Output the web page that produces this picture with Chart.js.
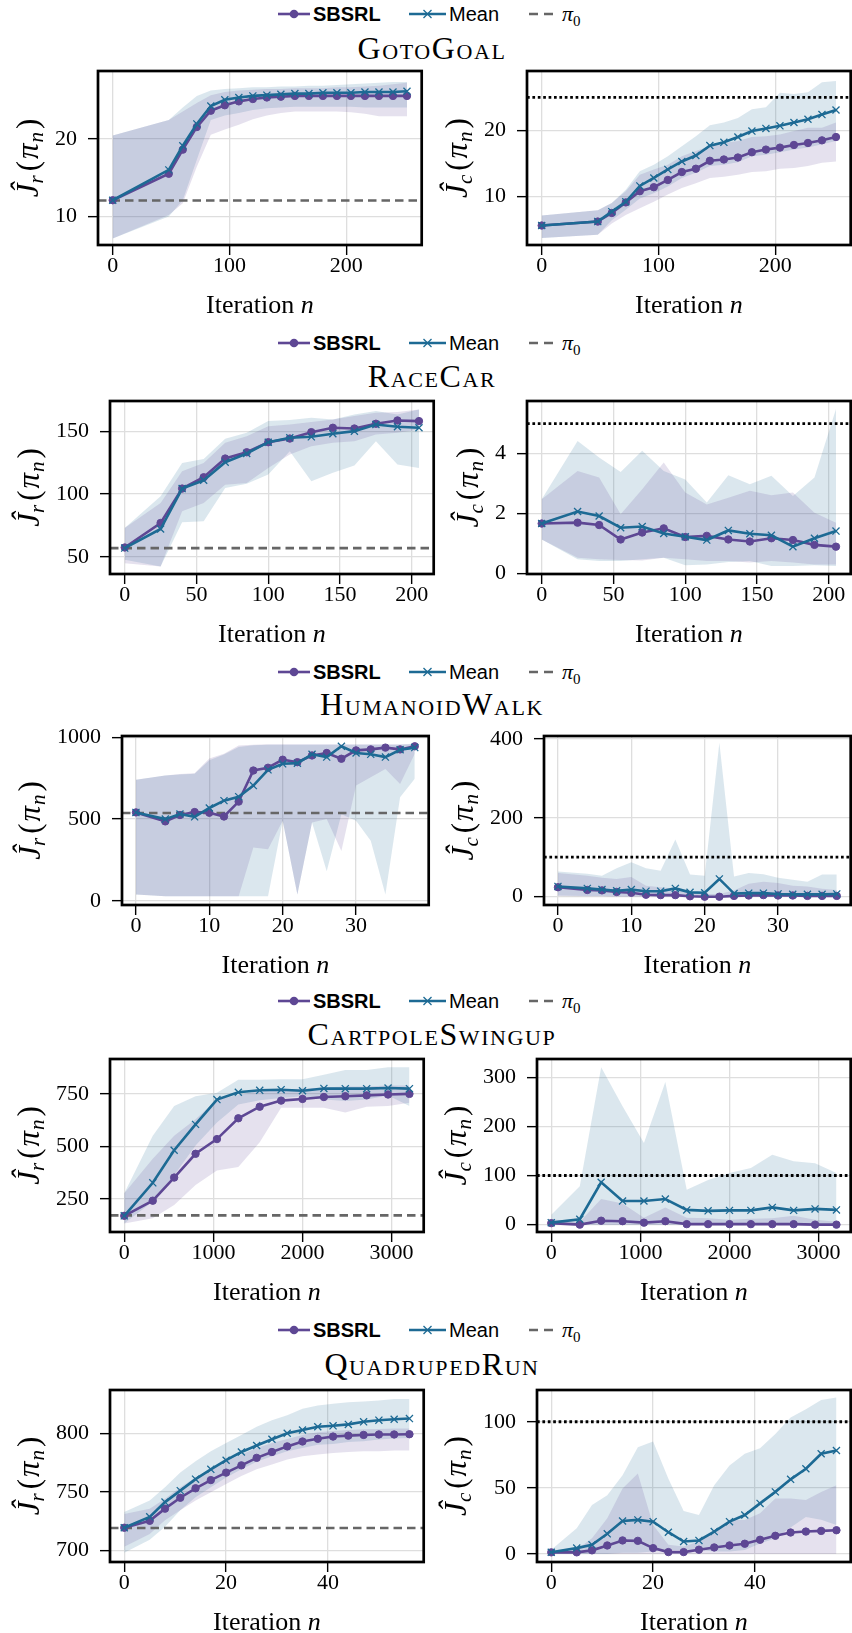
<!DOCTYPE html>
<html>
<head>
<meta charset="utf-8">
<script src="https://cdn.jsdelivr.net/npm/chart.js@4.4.1/dist/chart.umd.min.js"></script>
<style>
  html, body { margin: 0; padding: 0; background: #fff; overflow: hidden; }
  #page { position: relative; width: 852px; height: 1633px; overflow: hidden; }
  #page canvas { position: absolute; }
  #labels { position: absolute; left: 0; top: 0; }
</style>
</head>
<body>
<div id="page"><svg id="labels" width="852" height="1633"></svg></div>
<script>
// ---- data ----
const X_GOTO = [0, 48, 60, 72, 84, 96, 108, 120, 132, 144, 156, 168, 180, 192, 204, 216, 228, 240, 252];
const GOTO_R_SBSRL    = [12.1, 15.5, 18.6, 21.5, 23.6, 24.3, 24.8, 25.1, 25.3, 25.4, 25.5, 25.5, 25.5, 25.5, 25.5, 25.5, 25.5, 25.5, 25.5];
const GOTO_R_SBSRL_HI = [20.4, 22.4, 23.5, 24.6, 25.6, 26.0, 26.2, 26.3, 26.4, 26.4, 26.5, 26.5, 26.5, 26.6, 26.6, 26.7, 26.8, 27.0, 27.2];
const GOTO_R_SBSRL_LO = [7.2, 10.2, 11.7, 16.4, 20.5, 21.2, 21.8, 22.5, 23.0, 23.3, 23.5, 23.5, 23.5, 23.5, 23.4, 23.2, 22.9, 22.9, 22.9];
const GOTO_R_MEAN     = [12.1, 16.0, 19.1, 21.9, 24.2, 25.0, 25.3, 25.5, 25.6, 25.7, 25.8, 25.8, 25.9, 25.9, 25.9, 26.0, 26.0, 26.0, 26.1];
const GOTO_R_MEAN_HI  = [20.4, 22.4, 24.0, 25.5, 26.2, 26.4, 26.5, 26.6, 26.6, 26.7, 26.7, 26.8, 26.8, 26.9, 27.0, 27.1, 27.2, 27.3, 27.3];
const GOTO_R_MEAN_LO  = [7.2, 10.0, 12.1, 17.3, 22.4, 23.0, 23.3, 23.7, 23.9, 24.0, 24.1, 24.1, 24.1, 24.1, 24.1, 24.0, 24.0, 24.0, 24.0];
const GOTO_C_SBSRL    = [5.6, 6.2, 7.5, 9.1, 10.8, 11.4, 12.5, 13.7, 14.2, 15.4, 15.6, 15.9, 16.7, 17.1, 17.4, 17.8, 18.1, 18.5, 19.0];
const GOTO_C_SBSRL_HI = [7.1, 7.9, 9.0, 10.8, 13.3, 14.1, 14.8, 16.1, 16.9, 17.6, 18.1, 18.4, 19.0, 19.1, 19.4, 19.9, 20.4, 20.4, 21.2];
const GOTO_C_SBSRL_LO = [3.7, 4.2, 5.9, 7.2, 8.2, 9.2, 10.3, 11.3, 12.0, 12.8, 13.0, 13.3, 13.7, 13.8, 14.2, 14.3, 14.6, 15.1, 15.3];
const GOTO_C_MEAN     = [5.6, 6.2, 7.7, 9.2, 11.6, 12.8, 14.1, 15.3, 16.2, 17.7, 18.2, 19.0, 19.9, 20.3, 20.7, 21.2, 21.7, 22.4, 23.1];
const GOTO_C_MEAN_HI  = [7.1, 7.9, 9.0, 11.0, 13.8, 14.8, 16.1, 17.6, 19.1, 20.8, 21.2, 21.9, 23.2, 23.5, 25.7, 25.5, 25.8, 27.3, 27.5];
const GOTO_C_MEAN_LO  = [3.7, 4.2, 6.4, 8.0, 9.7, 10.5, 11.5, 12.8, 13.6, 14.6, 14.8, 15.2, 16.1, 16.3, 16.7, 17.1, 17.4, 17.9, 18.4];

const X_RACE = [0, 25, 40, 55, 70, 85, 100, 115, 130, 145, 160, 175, 190, 205];
const RACE_R_SBSRL    = [57.4, 76.9, 104.3, 113.3, 128.2, 133.2, 141.2, 144.1, 149.2, 152.7, 152.1, 155.9, 158.5, 158.0];
const RACE_R_SBSRL_HI = [72.9, 92.8, 118, 124.7, 140.7, 146, 154, 155.3, 157.2, 159.3, 162, 164.6, 165.2, 167.3];
const RACE_R_SBSRL_LO = [44.9, 42.3, 86.2, 92.8, 107.4, 108.8, 120.7, 131.4, 138, 140.7, 142, 147.3, 148.7, 151.3];
const RACE_R_MEAN     = [56.9, 72.1, 104.3, 110.9, 125.3, 132.2, 141.2, 144.7, 145.5, 147.9, 150, 155.3, 153.5, 152.7];
const RACE_R_MEAN_HI  = [72.9, 98.1, 124.7, 127.9, 143.9, 148.7, 158, 158.8, 160.6, 159.3, 163.3, 166, 163.3, 167.3];
const RACE_R_MEAN_LO  = [47.6, 42.3, 77.4, 78.2, 104.8, 108.2, 115.4, 134, 110.1, 116.8, 122.6, 142, 123.4, 120.7];
const RACE_C_SBSRL    = [1.67, 1.70, 1.62, 1.14, 1.37, 1.51, 1.22, 1.26, 1.14, 1.07, 1.18, 1.12, 0.96, 0.90];
const RACE_C_SBSRL_HI = [2.48, 3.42, 3.2, 1.98, 2.81, 3.7, 2.7, 2.3, 2.53, 2.76, 2.61, 2.7, 2.03, 1.7];
const RACE_C_SBSRL_LO = [1.14, 0.53, 0.48, 0.46, 0.44, 0.53, 0.48, 0.42, 0.42, 0.37, 0.42, 0.37, 0.31, 0.31];
const RACE_C_MEAN     = [1.67, 2.07, 1.92, 1.53, 1.57, 1.34, 1.23, 1.12, 1.44, 1.33, 1.28, 0.90, 1.18, 1.42];
const RACE_C_MEAN_HI  = [2.48, 4.42, 3.87, 3.39, 4.09, 3.42, 3.14, 2.37, 3.28, 2.98, 3.26, 2.59, 3.2, 5.48];
const RACE_C_MEAN_LO  = [1.14, 0.48, 0.42, 0.42, 0.48, 0.53, 0.28, 0.31, 0.39, 0.42, 0.26, 0.26, 0.28, 0.26];

const X_HUM = [0, 4, 6, 8, 10, 12, 14, 16, 18, 20, 22, 24, 26, 28, 30, 32, 34, 36, 38];
const HUM_R_SBSRL    = [541, 486, 525, 543, 539, 516, 607, 797, 814, 863, 848, 889, 904, 869, 920, 926, 937, 926, 945];
const HUM_R_SBSRL_HI = [740, 766, 775, 780, 870, 900, 950, 955, 957, 957, 957, 957, 957, 957, 957, 957, 957, 957, 960];
const HUM_R_SBSRL_LO = [39, 29, 28, 28, 28, 28, 28, 326, 316, 490, 39, 480, 500, 305, 705, 756, 807, 715, 900];
const HUM_R_MEAN     = [541, 500, 531, 514, 568, 613, 637, 705, 801, 838, 842, 896, 879, 945, 904, 896, 879, 924, 937];
const HUM_R_MEAN_HI  = [740, 766, 772, 778, 860, 895, 940, 952, 955, 955, 955, 955, 955, 955, 955, 955, 955, 955, 958];
const HUM_R_MEAN_LO  = [39, 29, 28, 28, 28, 28, 28, 28, 28, 490, 39, 480, 182, 530, 490, 367, 39, 633, 746];
const HUM_C_SBSRL    = [24, 17, 16, 12, 10, 5, 4, 4, 1, 0, 0, 2, 3, 4, 3, 3, 2, 2, 2];
const HUM_C_SBSRL_HI = [60, 53, 48, 45, 50, 28, 24, 20, 13, 7, 7, 16, 33, 38, 35, 28, 26, 20, 17];
const HUM_C_SBSRL_LO = [2, 1, 1, 0, 0, 0, 0, 0, 0, 0, 0, 0, 0, 0, 0, 0, 0, 0, 0];
const HUM_C_MEAN     = [26, 21, 18, 15, 18, 14, 14, 21, 11, 10, 45, 8, 9, 9, 7, 6, 6, 6, 7];
const HUM_C_MEAN_HI  = [64, 58, 53, 72, 87, 72, 66, 145, 56, 53, 390, 51, 60, 57, 48, 43, 38, 56, 56];
const HUM_C_MEAN_LO  = [3, 2, 2, 1, 1, 1, 1, 1, 1, 1, 1, 1, 1, 1, 1, 1, 1, 1, 1];

const X_CART = [0, 320, 560, 800, 1040, 1280, 1520, 1760, 2000, 2240, 2480, 2720, 2960, 3200];
const CART_R_SBSRL    = [170, 242, 352, 465, 535, 634, 689, 718, 726, 735, 739, 743, 747, 750];
const CART_R_SBSRL_HI = [277, 441, 551, 629, 723, 745, 765, 772, 775, 780, 785, 785, 790, 790];
const CART_R_SBSRL_LO = [133, 159, 222, 316, 386, 402, 520, 684, 684, 684, 661, 689, 692, 708];
const CART_R_MEAN     = [170, 327, 482, 605, 723, 758, 767, 770, 765, 776, 775, 775, 778, 775];
const CART_R_MEAN_HI  = [277, 551, 692, 739, 755, 817, 817, 820, 820, 841, 864, 864, 877, 877];
const CART_R_MEAN_LO  = [133, 238, 363, 504, 614, 700, 720, 730, 739, 723, 716, 723, 742, 692];
const CART_C_SBSRL    = [3, 0, 8, 7, 4, 7, 1, 1, 1, 1, 1, 1, 0, 0];
const CART_C_SBSRL_HI = [11, 6, 52, 43, 14, 35, 14, 13, 10, 12, 13, 18, 10, 6];
const CART_C_SBSRL_LO = [0, 0, 0, 0, 0, 0, 0, 0, 0, 0, 0, 0, 0, 0];
const CART_C_MEAN     = [4, 11, 86, 48, 48, 52, 30, 28, 29, 29, 35, 29, 32, 30];
const CART_C_MEAN_HI  = [20, 78, 320, 241, 166, 290, 71, 91, 105, 115, 142, 129, 125, 105];
const CART_C_MEAN_LO  = [0, 0, 0, 0, 0, 0, 0, 0, 0, 0, 0, 0, 0, 0];

const X_QUAD = [0, 5, 8, 11, 14, 17, 20, 23, 26, 29, 32, 35, 38, 41, 44, 47, 50, 53, 56];
const QUAD_R_SBSRL    = [719.3, 725.2, 735.6, 744.9, 753, 760, 766.4, 772.6, 779, 784, 788.8, 793, 795.3, 797.2, 798, 798.6, 799, 799, 799.2];
const QUAD_R_SBSRL_HI = [731, 735.6, 744, 753.8, 762.2, 769.2, 776.2, 781.8, 787.4, 791.6, 795.2, 798.6, 800.8, 802, 802.8, 803.4, 803.6, 804.2, 804.2];
const QUAD_R_SBSRL_LO = [703, 714, 725.6, 734.2, 742.6, 749.6, 756.6, 763.6, 769.2, 773.4, 777.6, 780.4, 781.8, 783.2, 784, 784.6, 784.6, 785.3, 785.3];
const QUAD_R_MEAN     = [719.3, 728.6, 741.2, 751, 760.8, 769.2, 777, 784, 789.6, 794.9, 800, 802.8, 805.6, 806.4, 807.6, 809.8, 811.2, 812, 812.6];
const QUAD_R_MEAN_HI  = [732.8, 742.6, 753.8, 766.4, 776.2, 784.6, 791.6, 798.6, 805.6, 811.2, 815.4, 821, 823.8, 825.2, 826.6, 827.2, 828, 829.4, 829.4];
const QUAD_R_MEAN_LO  = [698, 709, 720.2, 734.2, 745.4, 753.8, 762.2, 769.2, 775.6, 780.4, 784.6, 787.4, 790.2, 790.8, 792.6, 793.2, 794.6, 795.5, 796];
const QUAD_C_SBSRL    = [1.3, 1.3, 2.8, 6.5, 10.3, 10, 4.5, 1.5, 1.5, 3.3, 5, 6.5, 7.8, 10.8, 13.8, 16.3, 17, 17.5, 18];
const QUAD_C_SBSRL_HI = [3, 3.5, 12, 27, 49.5, 60.8, 22, 7, 5.8, 9.5, 17, 25.8, 25.8, 30.8, 42, 42, 40.8, 47, 52];
const QUAD_C_SBSRL_LO = [0, 0, 0, 0, 0, 0, 0, 0, 0, 0, 0, 0, 0, 0, 0, 0, 0, 0, 0];
const QUAD_C_MEAN     = [1.3, 4.5, 7, 15.3, 25, 25.8, 24.5, 16.5, 9.5, 10.3, 17, 24.5, 29.5, 38.3, 47, 56.5, 64.5, 75.8, 78.3];
const QUAD_C_MEAN_HI  = [3.3, 19.5, 37, 44.5, 59.5, 80.8, 85, 57, 32.5, 29.5, 52, 67, 75.8, 80, 90.8, 103.3, 109.5, 116.5, 118.3];
const QUAD_C_MEAN_LO  = [0, 0, 0, 0, 1, 1, 2, 3, 3, 3, 2, 2, 3, 8, 12, 20, 28, 26, 22];

// pi_0 reward level and cost budget per task
const PI0 = [12.06, 56.9, 537, 172, 719];
const BUDGET = [25, 5, 100, 100, 100];
const TITLES = ['GotoGoal', 'RaceCar', 'HumanoidWalk', 'CartpoleSwingup', 'QuadrupedRun'];

// tick labels
const XT = [[0, 100, 200], [0, 50, 100, 150, 200], [0, 10, 20, 30], [0, 1000, 2000, 3000], [0, 20, 40]];
const YT_R = [[10, 20], [50, 100, 150], [0, 500, 1000], [250, 500, 750], [700, 750, 800]];
const YT_C = [[10, 20], [0, 2, 4], [0, 200, 400], [0, 100, 200, 300], [0, 50, 100]];

// axis limits (matplotlib autoscale)
const XLIM = [[-12.6, 264.6], [-10.25, 215.25], [-1.9, 39.9], [-160, 3360], [-2.8, 58.8]];
const YLIM_R = [[6.35, 28.7], [36.3, 174], [-25, 1008], [93, 916], [690, 837]];
const YLIM_C = [[2.65, 29.0], [-0.01, 5.75], [-21, 407], [-15, 337], [-6, 124]];

// ---- layout ----
const ROW_TOP = [71, 401, 736, 1059, 1390];
const ROW_H = [173.5, 173, 168.5, 173, 172];
const LEFT_X = [98, 110, 122, 110, 110];
const RIGHT_X = [527, 527, 543.5, 537.3, 537.3];
const BOX_W = [323.5, 323.5, 306.5, 313.5, 313.5];
const TITLE_BASE = [59, 387, 715, 1045, 1375];
const LEGEND_BASE = [21, 350, 679, 1008, 1337];
const PAD_L = 130, PAD_T = 12, PAD_R = 6, PAD_B = 80;

const PURPLE = '#5e4794', BLUE = '#1d6a94';
const PURPLE_BAND = 'rgba(94,71,148,0.16)', BLUE_BAND = 'rgba(29,106,148,0.16)';
const SERIF = '"Liberation Serif", "Times New Roman", serif';

const ROWS = [
  { x: X_GOTO,
    r: [GOTO_R_SBSRL, GOTO_R_SBSRL_HI, GOTO_R_SBSRL_LO, GOTO_R_MEAN, GOTO_R_MEAN_HI, GOTO_R_MEAN_LO],
    c: [GOTO_C_SBSRL, GOTO_C_SBSRL_HI, GOTO_C_SBSRL_LO, GOTO_C_MEAN, GOTO_C_MEAN_HI, GOTO_C_MEAN_LO] },
  { x: X_RACE,
    r: [RACE_R_SBSRL, RACE_R_SBSRL_HI, RACE_R_SBSRL_LO, RACE_R_MEAN, RACE_R_MEAN_HI, RACE_R_MEAN_LO],
    c: [RACE_C_SBSRL, RACE_C_SBSRL_HI, RACE_C_SBSRL_LO, RACE_C_MEAN, RACE_C_MEAN_HI, RACE_C_MEAN_LO] },
  { x: X_HUM,
    r: [HUM_R_SBSRL, HUM_R_SBSRL_HI, HUM_R_SBSRL_LO, HUM_R_MEAN, HUM_R_MEAN_HI, HUM_R_MEAN_LO],
    c: [HUM_C_SBSRL, HUM_C_SBSRL_HI, HUM_C_SBSRL_LO, HUM_C_MEAN, HUM_C_MEAN_HI, HUM_C_MEAN_LO] },
  { x: X_CART,
    r: [CART_R_SBSRL, CART_R_SBSRL_HI, CART_R_SBSRL_LO, CART_R_MEAN, CART_R_MEAN_HI, CART_R_MEAN_LO],
    c: [CART_C_SBSRL, CART_C_SBSRL_HI, CART_C_SBSRL_LO, CART_C_MEAN, CART_C_MEAN_HI, CART_C_MEAN_LO] },
  { x: X_QUAD,
    r: [QUAD_R_SBSRL, QUAD_R_SBSRL_HI, QUAD_R_SBSRL_LO, QUAD_R_MEAN, QUAD_R_MEAN_HI, QUAD_R_MEAN_LO],
    c: [QUAD_C_SBSRL, QUAD_C_SBSRL_HI, QUAD_C_SBSRL_LO, QUAD_C_MEAN, QUAD_C_MEAN_HI, QUAD_C_MEAN_LO] }
];

function pts(xs, ys) { return xs.map((x, i) => ({ x, y: ys[i] })); }

// draws a run of text pieces (different fonts / baseline shifts) starting at x
function drawRun(ctx, parts, x, y) {
  parts.forEach(p => {
    if (p.gap) { x += p.gap; return; }
    ctx.font = p.f;
    ctx.fillText(p.t, x, y + (p.dy || 0));
    x += ctx.measureText(p.t).width;
  });
}
function runWidth(ctx, parts) {
  let w = 0;
  parts.forEach(p => {
    if (p.gap) { w += p.gap; return; }
    ctx.font = p.f;
    w += ctx.measureText(p.t).width;
  });
  return w;
}

const panelPlugin = {
  id: 'panel',
  beforeDatasetDraw(chart, args, opts) {
    if (args.index !== 4) return;   // after the bands, before the lines
    const { ctx, chartArea: a, scales } = chart;
    const py = scales.y.getPixelForValue(opts.level);
    ctx.save();
    ctx.beginPath(); ctx.rect(a.left, a.top, a.width, a.height); ctx.clip();
    if (opts.dotted) {
      ctx.strokeStyle = '#000'; ctx.lineWidth = 2.8; ctx.setLineDash([2.7, 2.7]);
    } else {
      ctx.strokeStyle = '#666'; ctx.lineWidth = 2.6; ctx.setLineDash([8.5, 5]);
    }
    ctx.beginPath(); ctx.moveTo(a.left, py); ctx.lineTo(a.right, py); ctx.stroke();
    ctx.restore();
  },
  afterDraw(chart, args, opts) {
    const { ctx, chartArea: a, scales } = chart;
    ctx.save();
    ctx.strokeStyle = '#000'; ctx.lineWidth = 2.7; ctx.setLineDash([]);
    ctx.strokeRect(a.left, a.top, a.width, a.height);
    ctx.fillStyle = '#000';
    ctx.textBaseline = 'alphabetic';

    // y label  J^_r(pi_n), rotated
    ctx.font = `22px ${SERIF}`;
    const tw = Math.max(...scales.y.ticks.map(t => ctx.measureText(String(t.label)).width));
    const cx = a.left - 20 - tw - 27, cy = (a.top + a.bottom) / 2;
    const big = `italic 31px ${SERIF}`, sub = `italic 21px ${SERIF}`, up = `31px ${SERIF}`;
    const ylab = [
      { t: 'Ĵ', f: big }, { t: opts.sub, f: sub, dy: 5 }, { gap: 4 },
      { t: '(', f: up }, { gap: 2 }, { t: 'π', f: big }, { gap: 1 }, { t: 'n', f: sub, dy: 5 }, { gap: 3 },
      { t: ')', f: up }
    ];
    ctx.translate(cx, cy);
    ctx.rotate(-Math.PI / 2);
    drawRun(ctx, ylab, -runWidth(ctx, ylab) / 2, 9);
    ctx.setTransform(1, 0, 0, 1, 0, 0);

    // x label
    const xlab = [{ t: 'Iteration ', f: `26px ${SERIF}` }, { t: 'n', f: `italic 26px ${SERIF}` }];
    drawRun(ctx, xlab, (a.left + a.right) / 2 - runWidth(ctx, xlab) / 2, a.bottom + 68);
    ctx.restore();
  }
};

function axis(lim, ticks, isX) {
  return {
    type: 'linear', min: lim[0], max: lim[1],
    grid: { color: '#dedede', lineWidth: 1.3, drawTicks: true, tickLength: 10, tickColor: '#000', tickWidth: 1.4 },
    border: { display: false },
    ticks: {
      autoSkip: false, maxRotation: 0, padding: isX ? -2 : 11, color: '#000',
      font: { family: SERIF, size: 22 }, callback: v => String(v)
    },
    afterBuildTicks: s => { s.ticks = ticks.map(v => ({ value: v })); },
    afterFit: s => {
      if (isX) s.height = PAD_B; else s.width = PAD_L;
      s.paddingTop = s.paddingBottom = s.paddingLeft = s.paddingRight = 0;
    }
  };
}

function makePanel(row, isCost) {
  const left = isCost ? RIGHT_X[row] : LEFT_X[row];
  const w = BOX_W[row], h = ROW_H[row];
  const cv = document.createElement('canvas');
  cv.width = Math.round(w + PAD_L + PAD_R);
  cv.height = Math.round(h + PAD_T + PAD_B);
  cv.style.left = (left - PAD_L) + 'px';
  cv.style.top = (ROW_TOP[row] - PAD_T) + 'px';
  document.getElementById('page').appendChild(cv);

  const xs = ROWS[row].x;
  const [s, sHi, sLo, m, mHi, mLo] = isCost ? ROWS[row].c : ROWS[row].r;
  const band = (d, c, fill, order) => ({
    data: pts(xs, d), borderWidth: 0, borderColor: 'transparent', pointRadius: 0,
    backgroundColor: c, fill, order
  });

  new Chart(cv.getContext('2d'), {
    type: 'line',
    data: {
      datasets: [
        band(mLo, BLUE_BAND, false, 5),
        band(mHi, BLUE_BAND, '-1', 5),
        band(sLo, PURPLE_BAND, false, 4),
        band(sHi, PURPLE_BAND, '-1', 4),
        { label: 'SBSRL', data: pts(xs, s), borderColor: PURPLE, borderWidth: 2.6,
          pointStyle: 'circle', pointRadius: 3.7, pointBackgroundColor: PURPLE,
          pointBorderColor: PURPLE, pointBorderWidth: 1, fill: false, order: 1 },
        { label: 'Mean', data: pts(xs, m), borderColor: BLUE, borderWidth: 2.6,
          pointStyle: 'crossRot', pointRadius: 5, pointBorderColor: BLUE,
          pointBorderWidth: 1.3, fill: false, order: 0 }
      ]
    },
    options: {
      responsive: false, animation: false, devicePixelRatio: 1,
      layout: { padding: { left: 0, top: PAD_T, right: PAD_R, bottom: 0 } },
      elements: { line: { tension: 0 } },
      plugins: {
        legend: { display: false }, tooltip: { enabled: false },
        panel: { level: isCost ? BUDGET[row] : PI0[row], dotted: isCost, sub: isCost ? 'c' : 'r' }
      },
      scales: {
        x: axis(XLIM[row], XT[row], true),
        y: axis(isCost ? YLIM_C[row] : YLIM_R[row], isCost ? YT_C[row] : YT_R[row], false)
      }
    },
    plugins: [panelPlugin]
  });
}

// titles and legends
function buildLabels() {
  const svg = document.getElementById('labels');
  let html = '';
  TITLES.forEach((t, i) => {
    const b = LEGEND_BASE[i], ly = b - 7;
    html += `
      <text x="432" y="${TITLE_BASE[i]}" text-anchor="middle" font-family='${SERIF}' font-size="32"
        style="font-variant: small-caps; letter-spacing: 1.6px">${t}</text>
      <line x1="278" y1="${ly}" x2="310" y2="${ly}" stroke="${PURPLE}" stroke-width="2.6"/>
      <circle cx="294" cy="${ly}" r="4.3" fill="${PURPLE}"/>
      <text x="313" y="${b}" font-family='"Liberation Sans", Arial, sans-serif' font-size="20" font-weight="bold">SBSRL</text>
      <line x1="409" y1="${ly}" x2="446" y2="${ly}" stroke="${BLUE}" stroke-width="2.6"/>
      <path d="M${423.5} ${ly - 4} L${431.5} ${ly + 4} M${423.5} ${ly + 4} L${431.5} ${ly - 4}" stroke="${BLUE}" stroke-width="1.3"/>
      <text x="449" y="${b}" font-family='"Liberation Sans", Arial, sans-serif' font-size="20">Mean</text>
      <line x1="529" y1="${ly}" x2="555" y2="${ly}" stroke="#666" stroke-width="2.6" stroke-dasharray="9 6"/>
      <text x="562" y="${b}" font-family='${SERIF}' font-size="22" font-style="italic">π<tspan font-size="15" font-style="normal" dy="5">0</tspan></text>`;
  });
  svg.innerHTML = html;
}

buildLabels();
for (let r = 0; r < ROWS.length; r++) {
  makePanel(r, false);
  makePanel(r, true);
}
</script>
</body>
</html>
